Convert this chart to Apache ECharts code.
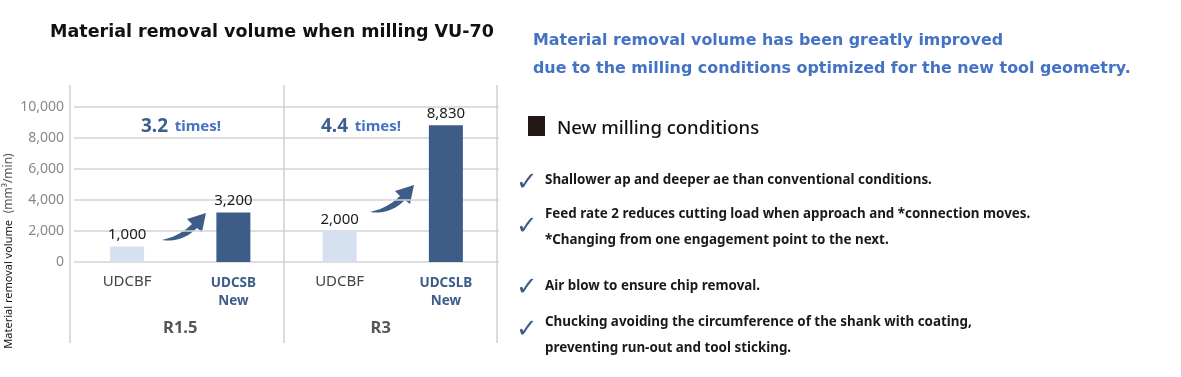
<!DOCTYPE html>
<html>
<head>
<meta charset="utf-8">
<script src="https://cdn.jsdelivr.net/npm/echarts@6/dist/echarts.min.js"></script>
<style>
  html, body { margin: 0; padding: 0; background: #fff; }
  #main { width: 1181px; height: 377px; }
</style>
</head>
<body>
<div id="main"></div>
<script>
// 数据
var categories = ['UDCBF', 'UDCSB', 'UDCBF', 'UDCSLB'];
var isNew = [false, true, false, true];
var values = [1000, 3200, 2000, 8830];
var groups = ['R1.5', 'R3'];
var yTicks = [0, 2000, 4000, 6000, 8000, 10000];
var ratios = ['3.2', '4.4'];
var notes = [
  ['Shallower ap and deeper ae than conventional conditions.'],
  ['Feed rate 2 reduces cutting load when approach and *connection moves.', '*Changing from one engagement point to the next.'],
  ['Air blow to ensure chip removal.'],
  ['Chucking avoiding the circumference of the shank with coating,', 'preventing run-out and tool sticking.']
];

var FONT = '"Noto Sans", sans-serif';
var WIDE = '"DejaVu Sans", sans-serif';
var DARK = '#3d5c87';
var LIGHT = '#d5e1f1';
var BLUE = '#4472c4';

var chart = echarts.init(document.getElementById('main'));

// 二次贝塞尔取点，用来画弯箭头
function quad(p0, c, p1, n) {
  var pts = [];
  for (var k = 0; k <= n; k++) {
    var t = k / n, u = 1 - t;
    pts.push([u * u * p0[0] + 2 * u * t * c[0] + t * t * p1[0], u * u * p0[1] + 2 * u * t * c[1] + t * t * p1[1]]);
  }
  return pts;
}
function arrowPoints(ox, oy) {
  var top = quad([0, 27], [18, 23], [30, 11], 10);
  var bottom = quad([35, 15], [20, 30], [0, 27], 10);
  var pts = top.concat([[25, 6], [44, 0], [40, 19]]).concat(bottom);
  return pts.map(function (p) { return [p[0] + ox, p[1] + oy]; });
}

// 右侧说明文字
var graphics = [];
graphics.push({
  type: 'text', x: 533, y: 41,
  style: { text: 'Material removal volume has been greatly improved', fill: BLUE, font: 'bold 15.9px ' + WIDE, verticalAlign: 'middle' }
});
graphics.push({
  type: 'text', x: 533, y: 69,
  style: { text: 'due to the milling conditions optimized for the new tool geometry.', fill: BLUE, font: 'bold 15.9px ' + WIDE, verticalAlign: 'middle' }
});
graphics.push({ type: 'rect', shape: { x: 528, y: 116, width: 17, height: 20 }, style: { fill: '#231815' } });
graphics.push({
  type: 'text', x: 557, y: 129,
  style: { text: 'New milling conditions', fill: '#111', font: '500 18.5px ' + FONT, verticalAlign: 'middle' }
});
var noteY = [[180], [214, 240], [286], [322, 348]];
var checkY = [183, 227, 288, 330];
notes.forEach(function (lines, i) {
  graphics.push({
    type: 'text', x: 527, y: checkY[i],
    style: { text: '\u2713', fill: DARK, font: '26px "DejaVu Sans"', align: 'center', verticalAlign: 'middle' }
  });
  lines.forEach(function (t, j) {
    graphics.push({
      type: 'text', x: 545, y: noteY[i][j],
      style: { text: t, fill: '#1a1a1a', font: 'bold 13.4px ' + FONT, verticalAlign: 'middle' }
    });
  });
});

// 倍数标注
var ratioPos = [[181, 127], [361, 127]];
ratios.forEach(function (r, i) {
  graphics.push({
    type: 'text', x: ratioPos[i][0], y: ratioPos[i][1],
    style: {
      text: '{a|' + r + '}  {b|times!}',
      align: 'center', verticalAlign: 'middle',
      rich: {
        a: { fill: '#3d5f8f', font: 'bold 19px ' + FONT },
        b: { fill: BLUE, font: 'bold 15px ' + FONT }
      }
    }
  });
});

// 箭头
var arrowPos = [[162, 213], [370, 185]];
arrowPos.forEach(function (p) {
  graphics.push({
    type: 'polygon',
    shape: { points: arrowPoints(p[0], p[1]) },
    style: { fill: DARK }
  });
});

// 纵轴名称
graphics.push({
  type: 'text', x: 9, y: 251, rotation: Math.PI / 2,
  style: {
    text: '{a|Material removal volume}  {b|(mm\u00b3/min)}',
    align: 'center', verticalAlign: 'middle',
    rich: {
      a: { fill: '#111', font: '11px ' + FONT },
      b: { fill: '#555', font: '12px ' + FONT }
    }
  }
});

var option = {
  animation: false,
  title: {
    text: 'Material removal volume when milling VU-70',
    left: 267, top: 18, textAlign: 'center',
    textStyle: { fontFamily: WIDE, fontWeight: 'bold', fontSize: 17.5, color: '#111' }
  },
  grid: [
    { left: 74, right: 682, top: 107, bottom: 115 },
    { left: 70, right: 684, top: 85, bottom: 34 }
  ],
  xAxis: [
    {
      type: 'category', gridIndex: 0, data: categories,
      axisLine: { show: false }, axisTick: { show: false },
      axisLabel: {
        interval: 0, margin: 12,
        formatter: function (v, i) {
          return isNew[i] ? '{n|' + v + '}\n{n|New}' : '{o|' + v + '}';
        },
        rich: {
          o: { color: '#444', fontSize: 15, fontFamily: FONT },
          n: { color: DARK, fontSize: 13.5, fontWeight: 'bold', fontFamily: FONT, lineHeight: 18 }
        }
      }
    },
    {
      type: 'category', gridIndex: 0, data: groups, position: 'bottom', offset: 52,
      axisLine: { show: false }, axisTick: { show: false },
      axisLabel: {
        interval: 0, margin: 6,
        formatter: function (v, i) { return i === 0 ? '{g|' + v + '}' : '{h|' + v + '}'; },
        rich: {
          g: { color: '#555', fontSize: 16.5, fontWeight: 'bold', fontFamily: FONT },
          h: { color: '#555', fontSize: 16.5, fontWeight: 'bold', fontFamily: FONT, padding: [0, 24, 0, 0] }
        }
      }
    },
    {
      type: 'category', gridIndex: 1, data: groups,
      axisLine: { show: false }, axisTick: { show: false }, axisLabel: { show: false },
      splitLine: { show: true, lineStyle: { color: '#cfcfcf', width: 1.5 } }
    }
  ],
  yAxis: [
    {
      type: 'value', gridIndex: 0, min: 0, max: 10000, interval: 2000,
      axisLine: { show: false }, axisTick: { show: false },
      axisLabel: {
        margin: 10, color: '#888', fontSize: 14, fontFamily: FONT,
        formatter: function (v) { return yTicks.indexOf(v) >= 0 ? v.toLocaleString('en-US') : ''; }
      },
      splitLine: { lineStyle: { color: '#d3d3d3', width: 1.5 } }
    },
    { type: 'value', gridIndex: 1, show: false }
  ],
  series: [
    {
      type: 'bar', xAxisIndex: 0, yAxisIndex: 0, barWidth: 34,
      data: values.map(function (v, i) {
        return { value: v, itemStyle: { color: isNew[i] ? DARK : LIGHT } };
      }),
      label: {
        show: true, position: 'top', distance: 4,
        color: '#1a1a1a', fontSize: 15, fontFamily: FONT,
        formatter: function (p) { return p.value.toLocaleString('en-US'); }
      }
    }
  ],
  graphic: graphics
};

chart.setOption(option);
</script>
</body>
</html>
